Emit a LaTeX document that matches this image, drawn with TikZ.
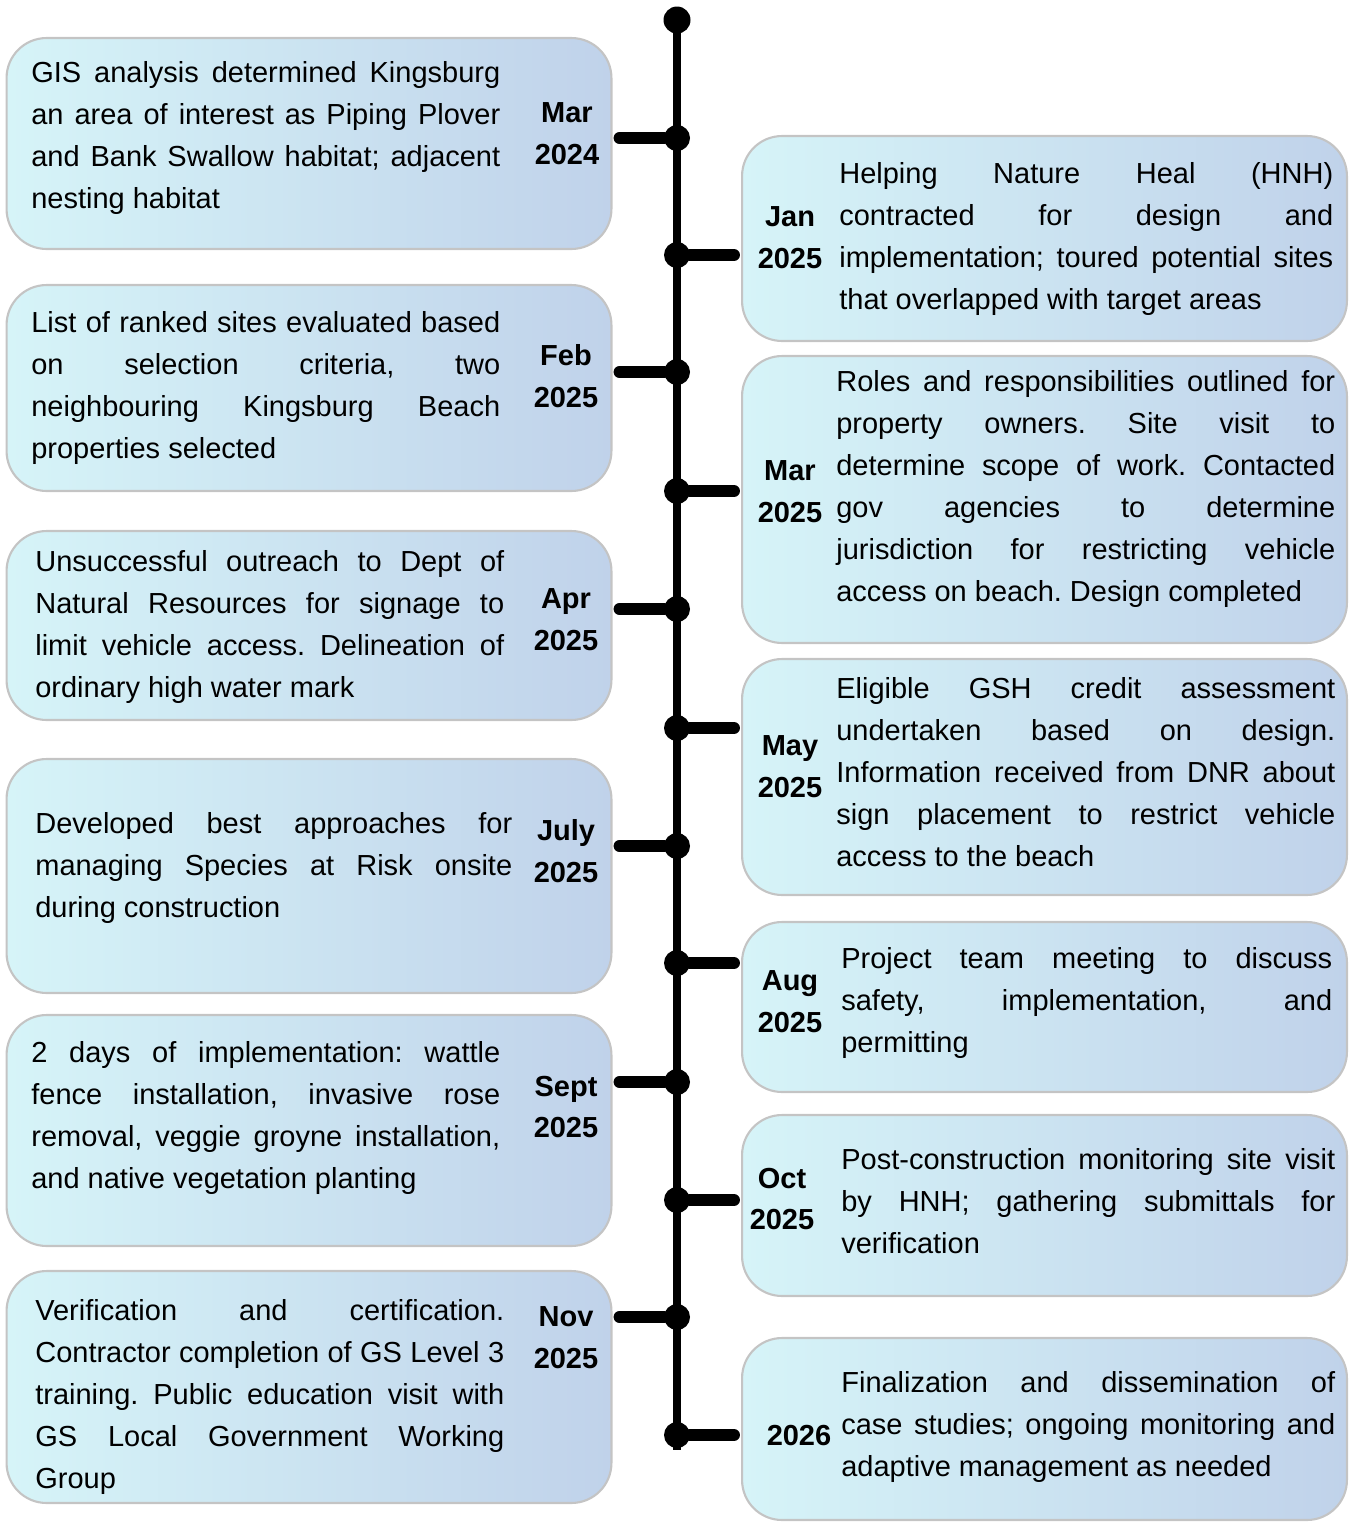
\documentclass[tikz,border=0pt]{standalone}
\usepackage{fontspec}
\setmainfont{Liberation Sans}
\usepackage{tikz}
\usetikzlibrary{positioning}
\definecolor{boxcyan}{HTML}{D6F4F8}
\definecolor{boxblue}{HTML}{C0D2EA}
\definecolor{boxrim}{HTML}{C4C4C4}
\newlength{\jw}
\newcommand{\jl}[1]{\makebox[\jw][s]{#1}}
\frenchspacing

\begin{document}
\begin{tikzpicture}[x=0.02cm, y=-0.02cm,
        every node/.style={font=\fontsize{16.5}{23.9}\selectfont},
        evbox/.style={draw=boxrim, line width=1.2pt, rounded corners=0.8cm, left color=boxcyan, right color=boxblue, inner sep=0pt, minimum width=12.1cm},
        evtext/.style={align=left, inner sep=0pt, anchor=west, execute at begin node={\setlength{\jw}{#1}}},
        datelbl/.style={align=center, inner sep=0pt, font=\fontsize{16.5}{23.9}\selectfont\bfseries},
        spine/.style={line width=4.5pt},
        conn/.style={line width=6.8pt, line cap=round},
        evdot/.style={circle, fill=black, inner sep=0pt, minimum size=0.52cm}]
        \useasboundingbox (0,0) rectangle (1353,1522);

        % Boxes on the left
        \node[evbox, minimum height=4.22cm] (L1) at (309,143.5) {};
        \node[evbox, minimum height=4.12cm] (L2) at (309,388) {};
        \node[evbox, minimum height=3.78cm] (L3) at (309,625.5) {};
        \node[evbox, minimum height=4.68cm] (L4) at (309,876) {};
        \node[evbox, minimum height=4.62cm] (L5) at (309,1130.5) {};
        \node[evbox, minimum height=4.64cm] (L6) at (309,1387) {};

        % Boxes on the right
        \node[evbox, minimum height=4.1cm] (R1) at (1044.5,238.5) {};
        \node[evbox, minimum height=5.74cm] (R2) at (1044.5,499.5) {};
        \node[evbox, minimum height=4.72cm] (R3) at (1044.5,777) {};
        \node[evbox, minimum height=3.4cm] (R4) at (1044.5,1007) {};
        \node[evbox, minimum height=3.62cm] (R5) at (1044.5,1205.5) {};
        \node[evbox, minimum height=3.64cm] (R6) at (1044.5,1429) {};

        % Timeline
        \coordinate (top) at (677,20);
        \coordinate (bottom) at (677,1450);
        \draw[spine] (top) -- (bottom);
        \node[evdot, minimum size=0.54cm] (topdot) at (top) {};

        \foreach \n/\y in {L1/138, L2/372, L3/609, L4/846, L5/1082, L6/1317,
                           R1/255, R2/491, R3/728, R4/963, R5/1200, R6/1435}
            \node[evdot] (d\n) at (677,\y) {};

        \foreach \n in {L1,L2,L3,L4,L5,L6}
            \draw[conn, shorten <=4pt] (\n.east |- d\n) -- (d\n);
        \foreach \n in {R1,R2,R3,R4,R5,R6}
            \draw[conn, shorten >=4pt] (d\n) -- (\n.west |- d\n);

        % Dates
        \node[datelbl] (tL1) at (567,134) {Mar\\2024};
        \node[datelbl] (tL2) at (566,376) {Feb\\2025};
        \node[datelbl] (tL3) at (566,620) {Apr\\2025};
        \node[datelbl] (tL4) at (566,851) {July\\2025};
        \node[datelbl] (tL5) at (566,1107) {Sept\\2025};
        \node[datelbl] (tL6) at (566,1338) {Nov\\2025};
        \node[datelbl] (tR1) at (790,238) {Jan\\2025};
        \node[datelbl] (tR2) at (790,492) {Mar\\2025};
        \node[datelbl] (tR3) at (790,767) {May\\2025};
        \node[datelbl] (tR4) at (790,1002) {Aug\\2025};
        \node[datelbl] (tR5) at (782,1199) {Oct\\2025};
        \node[datelbl] (tR6) at (799,1436) {2026};

        % Descriptions on the left
        \node[evtext=9.38cm] (xL1) at (31,138) {\jl{GIS analysis determined Kingsburg}\\
            \jl{an area of interest as Piping Plover}\\
            \jl{and Bank Swallow habitat; adjacent}\\
            nesting habitat};
        \node[evtext=9.38cm] (xL2) at (31,388) {\jl{List of ranked sites evaluated based}\\
            \jl{on selection criteria, two}\\
            \jl{neighbouring Kingsburg Beach}\\
            properties selected};
        \node[evtext=9.38cm] (xL3) at (35,627) {\jl{Unsuccessful outreach to Dept of}\\
            \jl{Natural Resources for signage to}\\
            \jl{limit vehicle access. Delineation of}\\
            ordinary high water mark};
        \node[evtext=9.54cm] (xL4) at (35,868) {\jl{Developed best approaches for}\\
            \jl{managing Species at Risk onsite}\\
            during construction};
        \node[evtext=9.38cm] (xL5) at (31,1118) {\jl{2 days of implementation: wattle}\\
            \jl{fence installation, invasive rose}\\
            \jl{removal, veggie groyne installation,}\\
            and native vegetation planting};
        \node[evtext=9.38cm] (xL6) at (35,1397) {\jl{Verification and certification.}\\
            \jl{Contractor completion of GS Level 3}\\
            \jl{training. Public education visit with}\\
            \jl{GS Local Government Working}\\
            Group};

        % Descriptions on the right
        \node[evtext=9.88cm] (xR1) at (839,239) {\jl{Helping Nature Heal (HNH)}\\
            \jl{contracted for design and}\\
            \jl{implementation; toured potential sites}\\
            that overlapped with target areas};
        \node[evtext=9.98cm] (xR2) at (836,489) {\jl{Roles and responsibilities outlined for}\\
            \jl{property owners. Site visit to}\\
            \jl{determine scope of work. Contacted}\\
            \jl{gov agencies to determine}\\
            \jl{jurisdiction for restricting vehicle}\\
            access on beach. Design completed};
        \node[evtext=9.98cm] (xR3) at (836,772) {\jl{Eligible GSH credit assessment}\\
            \jl{undertaken based on design.}\\
            \jl{Information received from DNR about}\\
            \jl{sign placement to restrict vehicle}\\
            access to the beach};
        \node[evtext=9.82cm] (xR4) at (841,1003) {\jl{Project team meeting to discuss}\\
            \jl{safety, implementation, and}\\
            permitting};
        \node[evtext=9.88cm] (xR5) at (841,1201) {\jl{Post-construction monitoring site visit}\\
            \jl{by HNH; gathering submittals for}\\
            verification};
        \node[evtext=9.88cm] (xR6) at (841,1427) {\jl{Finalization and dissemination of}\\
            \jl{case studies; ongoing monitoring and}\\
            adaptive management as needed};
\end{tikzpicture}
\end{document}
